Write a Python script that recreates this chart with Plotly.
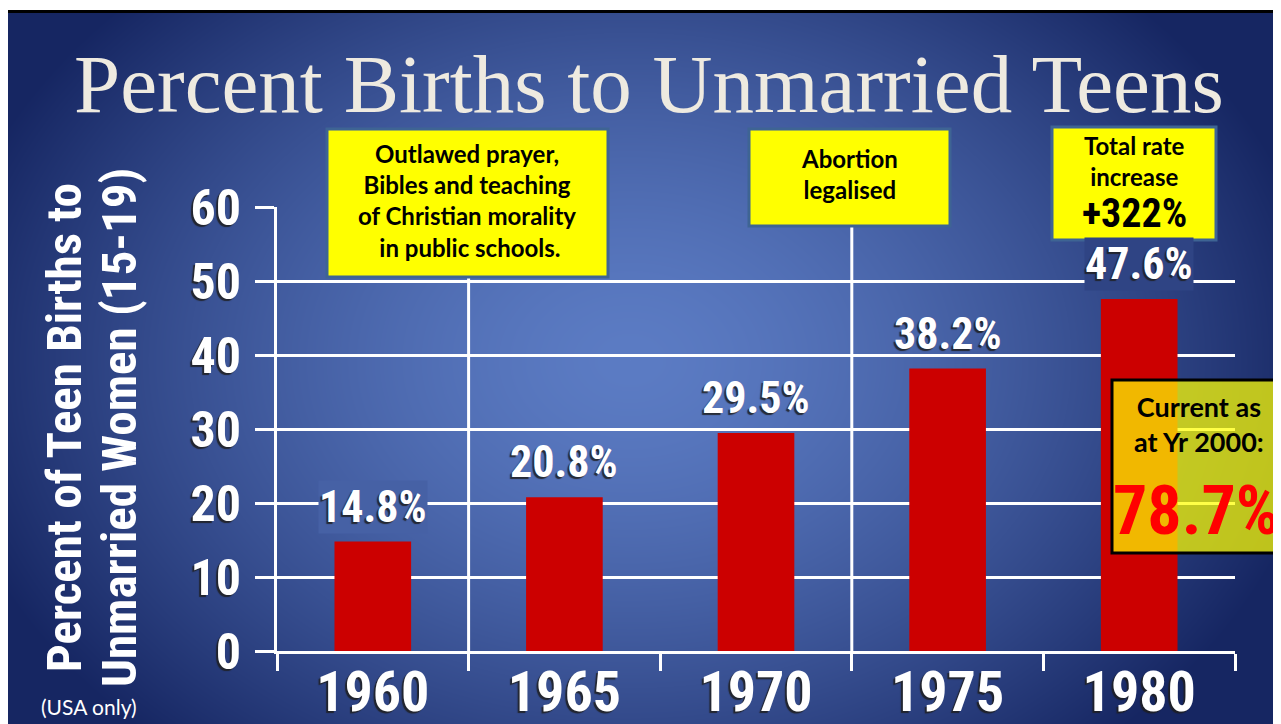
import base64
import struct
import zlib

import numpy as np
import plotly.graph_objects as go

# ---------------- data ----------------
years = ["1960", "1965", "1970", "1975", "1980"]
percent = [14.8, 20.8, 29.5, 38.2, 47.6]
value_labels = ["14.8%", "20.8%", "29.5%", "38.2%", "47.6%"]
y_ticks = [0, 10, 20, 30, 40, 50, 60]
event_boundaries = [0.5, 2.5]   # between 1960/1965 and 1970/1975

title_text = "Percent Births to Unmarried Teens"
y_title_1 = "Percent of Teen Births to"
y_title_2 = "Unmarried Women (15-19)"
note_text = "(USA only)"
box1_text = "Outlawed prayer,<br>Bibles and teaching<br>of Christian morality<br> in public schools."
box2_text = "Abortion<br>legalised"
box3_text = "Total rate<br>increase"
box3_big = "+322%"
box4_text = "Current as<br>at Yr 2000:"
box4_big = "78.7%"

# ---------------- geometry / style ----------------
W, H = 1281, 724
OFF = 8                      # page body margin offset
PL, PR, PT, PB = 277, 1235, 207, 651   # plot area in page pixels
PXU = (PB - PT) / 60.0       # pixels per y unit
NARROW = "Roboto Condensed, Liberation Sans Narrow, Roboto, sans-serif"
BODY = "Lato, Carlito, Open Sans, sans-serif"
SHADOW = "-2px 2px 1px rgba(30,30,30,0.85)"

INNER = np.array([92, 124, 196], dtype=float)
OUTER = np.array([22, 38, 98], dtype=float)
CX, CY, RX, RY, POW = 630, 360, 700, 520, 1.5


def bg_color(x, y):
    d = np.sqrt(((x - CX) / RX) ** 2 + ((y - CY) / RY) ** 2)
    t = np.clip(d, 0, 1) ** POW
    return INNER[None, None, :] * (1 - t[..., None]) + OUTER[None, None, :] * t[..., None]


def make_background():
    yy, xx = np.mgrid[0:H, 0:W].astype(float)
    img = np.clip(bg_color(xx, yy), 0, 255).astype(np.uint8)
    img[:10, :, :] = 255
    img[10:13, :, :] = 0
    img[10:, :8, :] = 0
    raw = b"".join(b"\x00" + img[r].tobytes() for r in range(H))

    def chunk(tag, data):
        c = struct.pack(">I", len(data)) + tag + data
        return c + struct.pack(">I", zlib.crc32(tag + data) & 0xFFFFFFFF)

    png = b"\x89PNG\r\n\x1a\n"
    png += chunk(b"IHDR", struct.pack(">IIBBBBB", W, H, 8, 2, 0, 0, 0))
    png += chunk(b"IDAT", zlib.compress(raw, 9))
    png += chunk(b"IEND", b"")
    return "data:image/png;base64," + base64.b64encode(png).decode()


def px(x):
    return (x - PL) / (PR - PL)


def py(y):
    return (PB - y) / (PB - PT)


def rgb_at(x, y):
    c = bg_color(np.array([[x]], float), np.array([[y]], float))[0, 0]
    return "rgb(%d,%d,%d)" % tuple(int(round(v)) for v in c)


xpos = list(range(len(years)))

fig = go.Figure()
fig.add_trace(go.Bar(x=xpos, y=percent, width=0.4,
                     marker=dict(color="#CC0000", line=dict(width=0)), hoverinfo="skip"))

shapes = []
for b in event_boundaries:
    shapes.append(dict(type="line", xref="x", yref="y", x0=b, x1=b, y0=0, y1=60,
                       line=dict(color="white", width=3), layer="below"))


def box(x0, y0, x1, y1, fill, line_color):
    shapes.append(dict(type="rect", xref="paper", yref="paper",
                       x0=px(x0), x1=px(x1), y0=py(y1), y1=py(y0),
                       fillcolor=fill, line=dict(color=line_color, width=3), layer="above"))


box(327, 129, 608, 277, "#FFFF00", "#3E6494")
box(749, 129, 950, 226, "#FFFF00", "#3E6494")
box(1052, 127, 1216, 240, "#FFFF00", "#3E6494")
box(1112, 380, 1295, 553, "rgba(255,255,0,0.72)", "black")

annotations = []


def text(x, y, t, size, family, color="black", weight="bold", **kw):
    annotations.append(dict(xref="paper", yref="paper", x=px(x), y=py(y), text=t,
                            showarrow=False, xanchor="center", yanchor="middle",
                            font=dict(size=size, family=family, color=color, weight=weight),
                            **kw))


text(649, 84, title_text, 83, "Liberation Serif, Times New Roman, serif", color="#EEEAE0",
     weight="normal")
text(64, 428, y_title_1, 49, NARROW, color="white", textangle=-90)
text(119, 428, y_title_2, 49, NARROW, color="white", textangle=-90)
text(89, 706, note_text, 21, BODY, color="white", weight="normal")
text(467, 201, box1_text, 24, BODY)
text(849, 174, box2_text, 24, BODY)
text(1134, 161, box3_text, 24, BODY)
text(1134, 214, box3_big, 40, NARROW)
text(1199, 424, box4_text, 27, BODY)
text(1196, 511, box4_big, 68, NARROW, color="#FF0000")

LABEL_GAP = 8          # px between bar top and label box
LABEL_CAP = (18, 50)   # px range above bar top occupied by the glyphs
for i, (v, lab) in enumerate(zip(percent, value_labels)):
    lo = v + LABEL_CAP[0] / PXU - 0.3
    hi = v + LABEL_CAP[1] / PXU
    crosses = any(lo <= g <= hi for g in y_ticks)
    ann = dict(xref="x", yref="y", x=i, y=v, text=lab, showarrow=False,
               xanchor="center", yanchor="bottom", yshift=LABEL_GAP, borderpad=0,
               font=dict(size=44, family=NARROW, color="white", weight="bold", shadow=SHADOW))
    if crosses:
        cx = PL + (i + 0.5) * (PR - PL) / len(years)
        cy = PB - v * PXU - 34
        ann["bgcolor"] = rgb_at(cx, cy)
    annotations.append(ann)

fig.update_layout(
    width=W, height=H,
    margin=dict(l=PL - OFF, r=W - (PR - OFF), t=PT - OFF, b=H - (PB - OFF), pad=0),
    paper_bgcolor="white", plot_bgcolor="rgba(0,0,0,0)",
    showlegend=False,
    images=[dict(source=make_background(), xref="paper", yref="paper",
                 x=px(0), y=py(0), sizex=px(W) - px(0), sizey=py(0) - py(H),
                 xanchor="left", yanchor="top", sizing="stretch", layer="below")],
    shapes=shapes, annotations=annotations,
    xaxis=dict(range=[-0.5, 4.5], tickvals=xpos, ticktext=years, ticks="",
               showline=True, linecolor="white", linewidth=3,
               showgrid=False, zeroline=False, automargin=False,
               minor=dict(tickvals=[i - 0.5 for i in range(len(years) + 1)], ticks="outside",
                          ticklen=17, tickwidth=3, tickcolor="white", showgrid=False),
               tickfont=dict(size=56, family=NARROW, color="white", weight="bold", shadow=SHADOW),
               ticklabelstandoff=-10),
    yaxis=dict(range=[0, 60.05], tickvals=y_ticks, ticks="outside", ticklen=19, tickwidth=3,
               tickcolor="white", showline=True, linecolor="white", linewidth=3,
               showgrid=True, gridcolor="white", gridwidth=3, zeroline=False, automargin=False,
               tickfont=dict(size=50, family=NARROW, color="white", weight="bold", shadow=SHADOW),
               ticklabelstandoff=4),
)

fig.write_html("out.html")
